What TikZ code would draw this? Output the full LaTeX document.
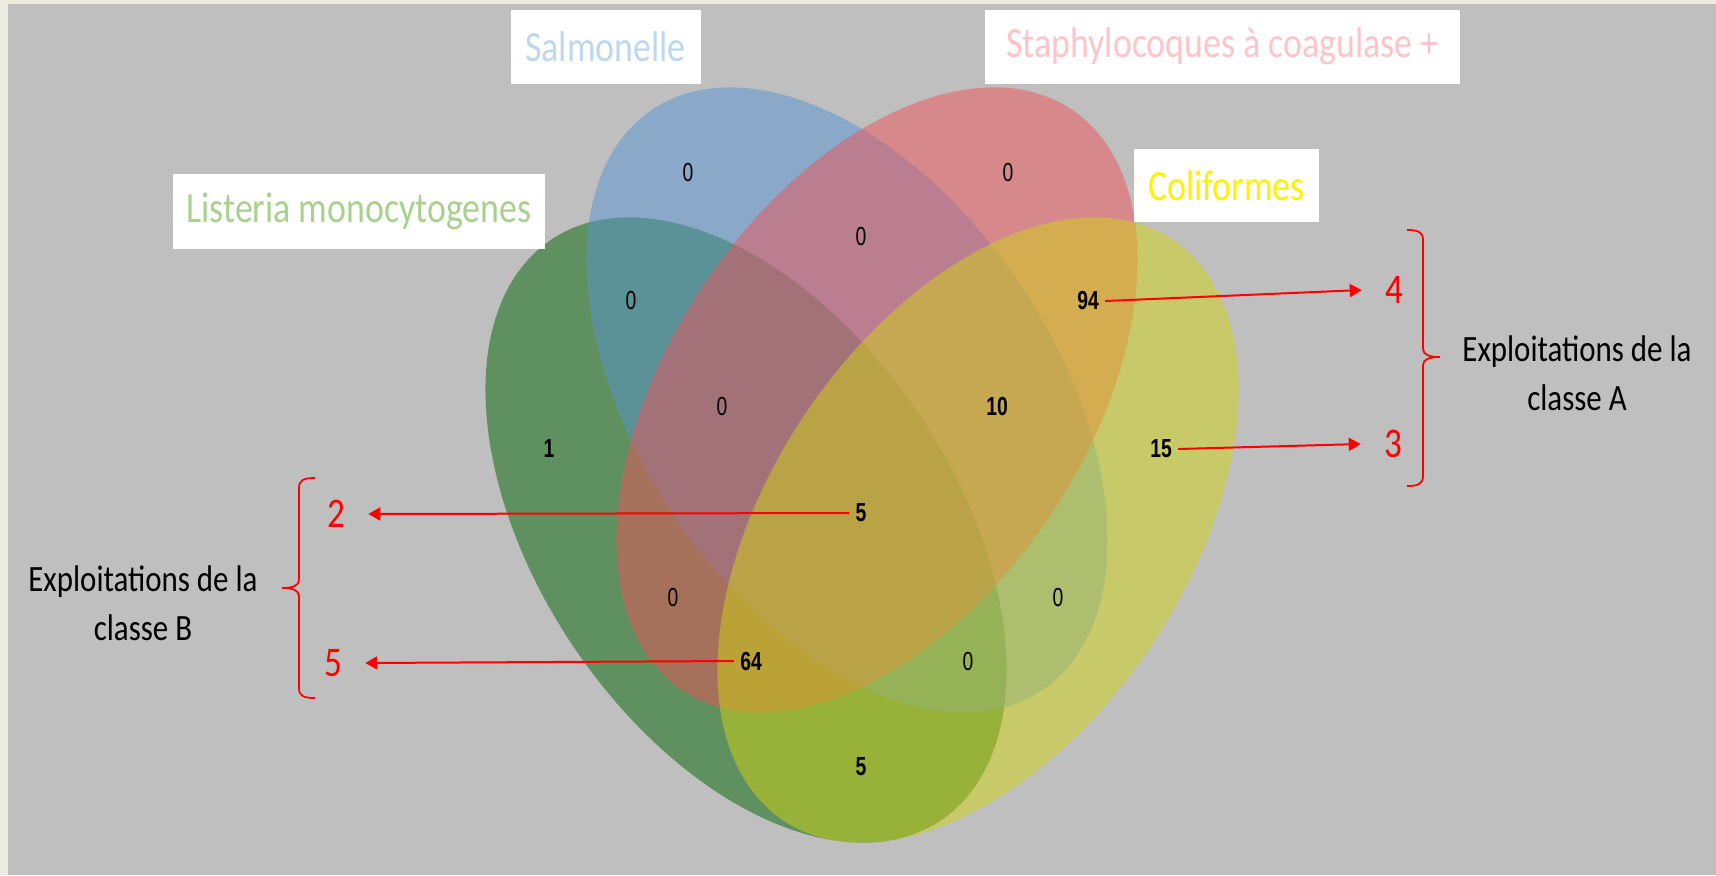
\documentclass[tikz,border=0pt]{standalone}
\usepackage{fontspec}
\usepackage{graphicx}
\setmainfont{Carlito}
\newfontfamily\cntfont{Liberation Sans}
\usetikzlibrary{arrows.meta,positioning}
\definecolor{Slide}{HTML}{BFBFBF}
\definecolor{Paper}{HTML}{EEECE1}
\definecolor{ListeriaC}{RGB}{0,99,0}
\definecolor{SalmoC}{RGB}{87,149,209}
\definecolor{StaphC}{RGB}{237,83,89}
\definecolor{ColiC}{RGB}{209,211,21}
\definecolor{ListeriaT}{HTML}{A9D18E}
\definecolor{SalmoT}{HTML}{BDD7EE}
\definecolor{StaphT}{HTML}{FFC4CA}
\definecolor{ColiT}{HTML}{FFF200}
\newcommand{\tall}[1]{\scalebox{1}[1.2]{#1}}
\newcommand{\cnt}[1]{\scalebox{1}[1.35]{#1}}

\begin{document}
\begin{tikzpicture}[
  x=0.2mm,y=-0.2mm,
  venn/.style={fill=#1,fill opacity=0.5},
  tagbox/.style={fill=white,inner sep=0pt,minimum height=14.8mm,font=\fontsize{20.4}{24}\selectfont},
  cnt/.style={inner xsep=1.2mm,inner ysep=0.5mm,font=\cntfont\fontsize{11}{13}\selectfont},
  hit/.style={cnt,font=\cntfont\bfseries\fontsize{11}{13}\selectfont},
  grp/.style={text=red,inner xsep=4.6mm,inner ysep=0pt,font=\fontsize{20}{24}\selectfont},
  cls/.style={align=center,font=\fontsize{17.6}{27.9}\selectfont},
  arr/.style={-{Triangle[length=2.4mm,width=2.6mm]},draw=red,line width=0.4mm},
  brc/.style={draw=red,line width=0.35mm}
]
% slide background
\fill[Paper] (0,0) rectangle (1716,875);
\fill[Slide] (8,4) rectangle (1716,875);
\useasboundingbox (0,0) rectangle (1716,875);

% the four sets
\begin{scope}[shift={(746,530)},yscale=1.2,rotate=-45]
  \fill[venn=ListeriaC] (0,0) ellipse (62.7mm and 38.7mm);
\end{scope}
\begin{scope}[shift={(847,400)},yscale=1.2,rotate=-45]
  \fill[venn=SalmoC] (0,0) ellipse (62.7mm and 38.7mm);
\end{scope}
\begin{scope}[shift={(877,400)},yscale=1.2,rotate=45]
  \fill[venn=StaphC] (0,0) ellipse (62.7mm and 38.7mm);
\end{scope}
\begin{scope}[shift={(978,530)},yscale=1.2,rotate=45]
  \fill[venn=ColiC] (0,0) ellipse (62.7mm and 38.7mm);
\end{scope}

% set names
\node[tagbox,minimum width=38mm,text=SalmoT] (tS) at (605.5,46.5) {\tall{Salmonelle}};
\node[tagbox,minimum width=95mm,text=StaphT] (tT) at (1222.5,46.5) {\tall{Staphylocoques à coagulase +}};
\node[tagbox,minimum width=74.4mm,minimum height=15mm,text=ListeriaT] (tL) at (359,211.5) {\tall{Listeria monocytogenes}};
\node[tagbox,minimum width=37mm,minimum height=14.6mm,text=ColiT] (tC) at (1226.5,185.5) {\tall{Coliformes}};

% counts
\node[cnt] (vS) at (688,173) {\cnt{0}};
\node[cnt] (vT) at (1008,173) {\cnt{0}};
\node[cnt] (vST) at (861,237) {\cnt{0}};
\node[cnt] (vLS) at (631,301) {\cnt{0}};
\node[hit] (vTC) at (1088,301) {\cnt{94}};
\node[cnt] (vLST) at (722,407) {\cnt{0}};
\node[hit] (vSTC) at (997,407) {\cnt{10}};
\node[hit] (vL) at (549,449) {\cnt{1}};
\node[hit] (vC) at (1161,449) {\cnt{15}};
\node[hit] (vLSTC) at (861,513) {\cnt{5}};
\node[cnt] (vLT) at (673,597) {\cnt{0}};
\node[cnt] (vSC) at (1058,597) {\cnt{0}};
\node[hit] (vLTC) at (751,661) {\cnt{64}};
\node[cnt] (vLSC) at (968,661) {\cnt{0}};
\node[hit] (vLC) at (861,767) {\cnt{5}};

% groups
\node[grp] (g4) at (1394,290) {\tall{4}};
\node[grp] (g3) at (1393,444) {\tall{3}};
\node[grp] (g2) at (336,514) {\tall{2}};
\node[grp] (g5) at (333,663) {\tall{5}};
\draw[arr] (vTC.east) -- (g4.west);
\draw[arr] (vC.east) -- (g3.west);
\draw[arr] (vLSTC.west) -- (g2.east);
\draw[arr] (vLTC.west) -- (g5.east);

% classes
\draw[brc] (1407,230) .. controls (1418,230) and (1423,232) .. (1423,240)
  -- (1423,349) .. controls (1423,355) and (1430,357) .. (1440,357)
  .. controls (1430,357) and (1423,359) .. (1423,365)
  -- (1423,476) .. controls (1423,484) and (1418,486) .. (1407,486);
\draw[brc] (315,478) .. controls (304,478) and (299,480) .. (299,488)
  -- (299,580) .. controls (299,586) and (292,588) .. (282,588)
  .. controls (292,588) and (299,590) .. (299,596)
  -- (299,688) .. controls (299,696) and (304,698) .. (315,698);
\node[cls] (clsA) at (1577,373) {\tall{Exploitations de la}\\\tall{classe A}};
\node[cls] (clsB) at (143,603) {\tall{Exploitations de la}\\\tall{classe B}};
\end{tikzpicture}
\end{document}
